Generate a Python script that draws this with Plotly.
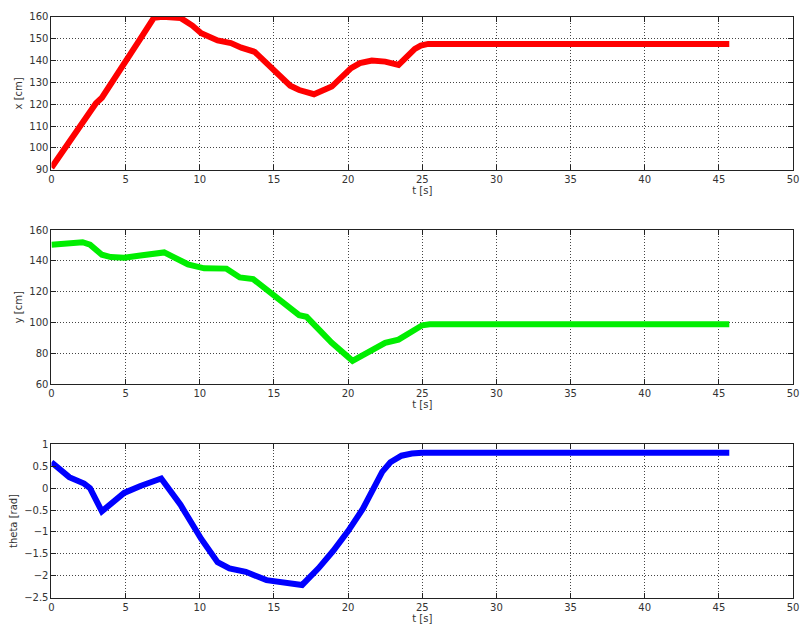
import plotly.graph_objects as go

# Data
t_x = [0, 1, 2, 3, 3.4, 4.5, 5, 6, 6.9, 7.5, 8.7, 9.5, 10.1, 11.2, 12.1, 12.8, 13.7,
       14.9, 16.1, 16.7, 17.7, 18.9, 20.2, 20.8, 21.6, 22.5, 23.4, 24.5, 24.9, 25.4, 45.7]
x_cm = [91, 101, 111, 120.5, 123, 134, 139.4, 150, 159.5, 160, 159.5, 156, 152.5, 149.2,
        148, 145.9, 144, 136.7, 128.5, 126.5, 124.6, 128.1, 136.5, 138.8, 140, 139.5, 138,
        145.3, 146.8, 147.6, 147.6]

t_y = [0, 1, 2.1, 2.6, 3.4, 4, 4.9, 6, 7.4, 7.6, 9.2, 10.3, 11.8, 12.7, 13.6, 15.2,
       16.7, 17.2, 18.9, 20.3, 22.5, 23.4, 24.5, 25.0, 25.5, 45.7]
y_cm = [150.5, 151.5, 152.1, 150.5, 144, 142.5, 142, 143.5, 145.8, 145.5, 137.8, 135.2,
        135, 129.3, 128.2, 116.5, 104.9, 103.8, 87, 75.3, 86.9, 89, 96, 98.3, 99, 99]

t_th = [0, 1.2, 2.2, 2.6, 3.4, 4.9, 6, 7.4, 8.7, 10.1, 11.2, 12, 13.1, 14.5, 16.9,
        18.0, 19.0, 20.0, 21.0, 21.6, 22.3, 22.85, 23.6, 24.3, 25.0, 45.7]
theta = [0.59, 0.25, 0.105, 0.0, -0.53, -0.11, 0.05, 0.22, -0.38, -1.16, -1.69, -1.83,
         -1.91, -2.1, -2.21, -1.83, -1.43, -0.98, -0.47, -0.05, 0.37, 0.59, 0.74, 0.79,
         0.81, 0.81]

W, H = 804, 639
fig = go.Figure()

panels = [
    (t_x, x_cm, "#ff0000", "x [cm]", [90, 160], 10, (11, 167)),
    (t_y, y_cm, "#00ee00", "y [cm]", [60, 160], 20, (228.3, 385.7)),
    (t_th, theta, "#0000ff", "theta [rad]", [-2.5, 1], 0.5, (446.7, 603)),
]

font = dict(family="DejaVu Sans", size=10, color="#333333")
layout = dict(
    width=W, height=H, margin=dict(l=0, r=0, t=0, b=0),
    paper_bgcolor="white", plot_bgcolor="white", showlegend=False, font=font,
)

for i, (tt, vv, col, ylab, yr, dt, (ptop, pbot)) in enumerate(panels, start=1):
    xa = "x" if i == 1 else f"x{i}"
    ya = "y" if i == 1 else f"y{i}"
    fig.add_trace(go.Scatter(x=tt, y=vv, mode="lines", xaxis=xa, yaxis=ya,
                             line=dict(color=col, width=6), cliponaxis=True))
    axis_common = dict(
        showline=True, linecolor="#222222", linewidth=1, mirror="ticks",
        ticks="inside", ticklen=5, tickcolor="#222222",
        showgrid=True, gridcolor="#444444", griddash="1px,2px", gridwidth=1,
        zeroline=False, tickfont=font, ticklabeloverflow="allow",
    )
    layout[f"xaxis{'' if i == 1 else i}"] = dict(
        axis_common, domain=[49 / W, 799 / W], range=[0, 50], dtick=5,
        anchor=ya, title=dict(text="t [s]", font=font, standoff=2),
    )
    layout[f"yaxis{'' if i == 1 else i}"] = dict(
        axis_common, domain=[1 - pbot / H, 1 - ptop / H], range=yr, dtick=dt,
        anchor=xa, title=dict(text=ylab, font=font, standoff=4),
    )

fig.update_layout(**layout)
fig.write_html(
    "out.html",
    config={"displayModeBar": False},
    post_script="document.body.style.margin='0';document.body.style.overflow='hidden';",
)
